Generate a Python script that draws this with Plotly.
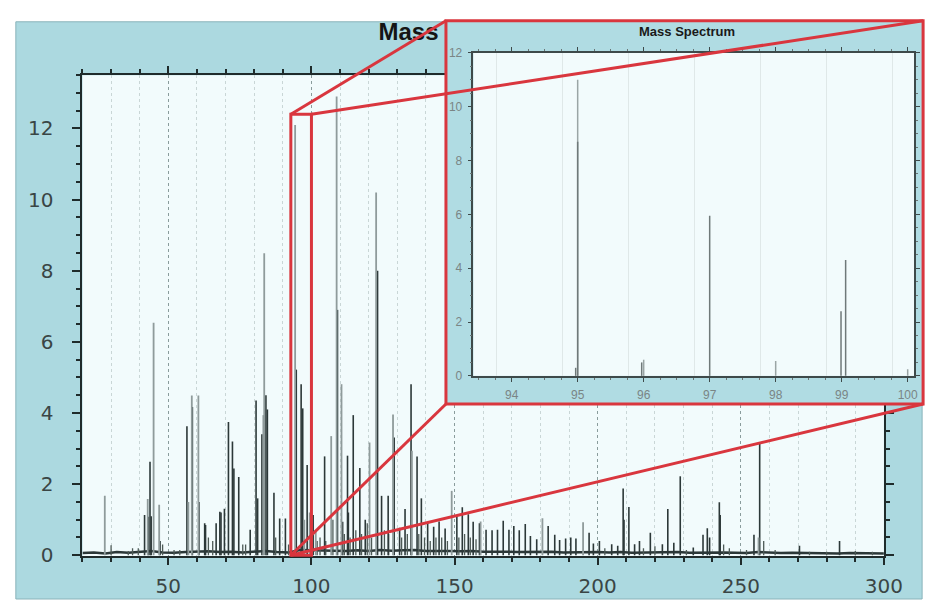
import plotly.graph_objects as go
import numpy as np

# ---------------- data ----------------
# main spectrum, darker peaks (m/z, intensity)
dark_mz = [41.7, 43.0, 43.6, 44.0, 47.1, 56.5, 58.4, 60.7, 62.7, 63.0, 66.7, 68.0, 68.4, 69.6,
           71.0, 72.4, 72.9, 74.6, 78.6, 80.65, 81.2, 82.7, 84.1, 84.6, 86.9, 88.9, 90.9,
           94.7, 96.4, 96.95, 98.5, 100.6, 104.6, 109.1, 110.9, 112.6, 112.9, 114.6, 116.9,
           118.8, 123.1, 124.5, 126.8, 128.9, 130.8, 132.7, 134.8, 136.9, 138.4, 140.6,
           142.7, 144.6, 146.7, 150.8, 152.7, 154.8, 156.5, 158.7, 161.0, 163.1, 165.0,
           167.0, 169.0, 170.7, 172.6, 174.7, 176.5, 178.7, 182.7, 185.0, 186.7, 188.8,
           190.6, 192.4, 197.0, 198.5, 200.6, 204.9, 207.0, 208.9, 209.2, 210.9, 212.9,
           214.6, 218.4, 222.6, 224.5, 226.6, 228.85, 233.4, 236.8, 238.3, 239.1, 242.5,
           242.8, 254.6, 256.6, 270.5, 284.5]
dark_int = [1.13, 1.08, 2.63, 1.10, 0.40, 3.63, 4.17, 1.50, 0.90, 0.85, 0.90, 1.22, 1.20, 1.31,
            3.75, 3.20, 2.44, 2.20, 0.72, 4.35, 1.60, 3.40, 4.50, 4.10, 1.76, 1.03, 1.03,
            5.22, 4.81, 4.13, 2.54, 1.13, 2.78, 6.90, 0.94, 2.80, 1.20, 3.94, 2.45,
            1.00, 8.00, 1.67, 1.67, 3.31, 0.77, 1.30, 4.81, 2.78, 1.60, 0.90,
            0.80, 0.95, 0.75, 1.10, 1.35, 1.15, 0.94, 0.90, 0.72, 0.70, 0.72,
            0.97, 0.72, 0.82, 0.70, 0.88, 0.54, 0.45, 0.82, 0.58, 0.43, 0.47,
            0.50, 0.47, 0.63, 0.33, 0.40, 0.31, 0.27, 1.88, 1.00, 1.36, 0.31,
            0.40, 0.63, 0.31, 1.30, 0.35, 2.22, 0.22, 0.58, 0.76, 0.50, 1.49,
            1.13, 0.58, 3.17, 0.27, 0.40]

# main spectrum, lighter (grey) peaks
light_mz = [27.8, 42.8, 44.85, 46.8, 57.0, 58.2, 60.5, 83.2, 83.5, 94.3, 97.5, 99.4, 101.5,
            106.9, 108.8, 110.5, 120.3, 122.6, 128.5, 135.1, 149.0, 159.1, 180.7, 194.9, 256.2]
light_int = [1.67, 1.58, 6.54, 1.42, 1.50, 4.49, 4.49, 3.94, 8.49, 12.1, 1.0, 1.2, 0.7,
             3.35, 12.9, 4.81, 3.17, 10.2, 3.96, 2.94, 1.81, 0.95, 1.04, 0.93, 0.50]

# small spikes
minor_mz = [30.0, 36.0, 37.5, 39.5, 48.0, 52.0, 54.0, 64.0, 65.5, 76.0, 77.0, 87.5, 92.0,
            102.0, 103.0, 105.0, 107.5, 111.5, 113.5, 115.5, 117.5, 119.5, 121.0, 125.5,
            127.0, 131.5, 133.5, 137.5, 139.5, 141.5, 143.5, 145.5, 147.5, 151.5, 153.5,
            155.5, 157.5, 202.5, 216.0, 220.0, 231.0, 244.0, 246.0, 252.0, 258.0, 262.0,
            274.0, 280.0, 290.0, 296.0]
minor_int = [0.28, 0.12, 0.20, 0.20, 0.30, 0.15, 0.15, 0.50, 0.40, 0.30, 0.30, 0.50, 0.30,
             0.40, 0.50, 0.40, 1.00, 0.60, 0.50, 0.70, 0.60, 0.90, 0.50, 0.70,
             0.60, 0.50, 0.60, 0.60, 0.50, 0.40, 0.50, 0.50, 0.40, 0.50, 0.60,
             0.50, 0.45, 0.20, 0.20, 0.25, 0.15, 0.30, 0.20, 0.15, 0.40, 0.15,
             0.10, 0.10, 0.12, 0.10]

# baseline noise
noise_mz = [20, 24, 28, 32, 36, 40, 44, 48, 52, 56, 60, 64, 68, 72, 76, 80, 84, 88, 92,
            96, 100, 104, 108, 112, 116, 120, 124, 128, 132, 136, 140, 144, 148, 152, 156,
            160, 164, 168, 172, 176, 180, 184, 188, 192, 196, 200, 204, 208, 212, 216, 220,
            224, 228, 232, 236, 240, 244, 248, 252, 256, 260, 264, 268, 272, 276, 280, 284,
            288, 292, 296, 300]
noise_int = [0.06, 0.08, 0.05, 0.09, 0.07, 0.10, 0.12, 0.08, 0.07, 0.09, 0.10, 0.11, 0.09,
             0.10, 0.08, 0.10, 0.12, 0.09, 0.08, 0.15, 0.14, 0.12, 0.13, 0.12, 0.14, 0.12,
             0.15, 0.13, 0.14, 0.15, 0.12, 0.13, 0.12, 0.11, 0.12, 0.10, 0.11, 0.10, 0.09,
             0.10, 0.09, 0.10, 0.08, 0.09, 0.08, 0.09, 0.08, 0.09, 0.07, 0.08, 0.07, 0.08,
             0.09, 0.07, 0.08, 0.09, 0.08, 0.07, 0.06, 0.09, 0.07, 0.06, 0.07, 0.06, 0.05,
             0.06, 0.05, 0.06, 0.05, 0.06, 0.05]

# inset (zoom on m/z 93.4-100)
inset_light_mz = [95.0, 96.0, 98.0, 100.0]
inset_light_int = [11.0, 0.60, 0.55, 0.25]
inset_dark_mz = [94.97, 95.0, 95.97, 97.0, 98.99, 99.06]
inset_dark_int = [0.30, 8.70, 0.50, 5.95, 2.40, 4.30]

x_ticks_main = [50, 100, 150, 200, 250, 300]
y_ticks_main = [0, 2, 4, 6, 8, 10, 12]
x_ticks_inset = [94, 95, 96, 97, 98, 99, 100]
y_ticks_inset = [0, 2, 4, 6, 8, 10, 12]

TITLE = "Mass Spectrum"
INSET_TITLE = "Mass Spectrum"

# ---------------- layout geometry ----------------
W, H = 939, 602
XR, YR = [20, 300], [-0.03, 13.5]
MAIN_DX = [76 / W, 894 / W]
MAIN_DY = [1 - 558 / H, 1 - 62 / H]
FRAME_DX = [447 / W, 934 / W]
FRAME_DY = [1 - 401 / H, 1 - 6 / H]
INSET_DX = [475 / W, 925 / W]
INSET_DY = [1 - 372 / H, 1 - 39 / H]
ZOOM_X = [92.8, 100.0]
ZOOM_Y = [0.0, 12.4]

RED = "#d9363e"
DARK = "#2c3838"
LIGHT = "#8f9b9b"


def spikes(xs, ys):
    X, Y = [], []
    for x, y in zip(xs, ys):
        X += [x, x, None]
        Y += [0, y, None]
    return X, Y


def px(m):
    return MAIN_DX[0] + (m - XR[0]) / (XR[1] - XR[0]) * (MAIN_DX[1] - MAIN_DX[0])


def py(v):
    return MAIN_DY[0] + (v - YR[0]) / (YR[1] - YR[0]) * (MAIN_DY[1] - MAIN_DY[0])


fig = go.Figure()

fig.add_trace(go.Scatter(x=noise_mz, y=noise_int, mode="lines",
                         line=dict(color=DARK, width=2.5), hoverinfo="skip",
                         xaxis="x", yaxis="y", showlegend=False))
mx, my = spikes(minor_mz, minor_int)
fig.add_trace(go.Scatter(x=mx, y=my, mode="lines", line=dict(color="#4d5a56", width=1.3),
                         xaxis="x", yaxis="y", showlegend=False))
lx, ly = spikes(light_mz, light_int)
fig.add_trace(go.Scatter(x=lx, y=ly, mode="lines", line=dict(color=LIGHT, width=1.8),
                         xaxis="x4", yaxis="y", showlegend=False))
dx, dy = spikes(dark_mz, dark_int)
fig.add_trace(go.Scatter(x=dx, y=dy, mode="lines", line=dict(color=DARK, width=1.6),
                         xaxis="x", yaxis="y", showlegend=False))

ilx, ily = spikes(inset_light_mz, inset_light_int)
fig.add_trace(go.Scatter(x=ilx, y=ily, mode="lines", line=dict(color="#9aa5a5", width=1.5),
                         xaxis="x3", yaxis="y3", showlegend=False))
idx_, idy = spikes(inset_dark_mz, inset_dark_int)
fig.add_trace(go.Scatter(x=idx_, y=idy, mode="lines", line=dict(color="#6f7979", width=1.5),
                         xaxis="x3", yaxis="y3", showlegend=False))

axis_dark = "#1f2b2b"
label_font = dict(family="DejaVu Sans", size=20, color="#3a4545")
small_font = dict(family="Liberation Sans Narrow, Liberation Sans", size=12, color="#7a8585")

fig.update_layout(
    width=W, height=H,
    margin=dict(l=0, r=0, t=0, b=0),
    paper_bgcolor="white",
    plot_bgcolor="#f2fbfc",
    showlegend=False,
    xaxis=dict(domain=MAIN_DX, anchor="y", range=XR, tickvals=x_ticks_main,
               showline=True, linecolor=axis_dark, linewidth=2, mirror="ticks",
               ticks="outside", ticklen=7, tickwidth=2, tickcolor=axis_dark,
               showgrid=True, gridcolor="#8a9c9c", griddash="dot", gridwidth=1,
               minor=dict(dtick=10, tick0=0, ticks="outside", ticklen=4, tickcolor=axis_dark,
                          showgrid=True, gridcolor="#c9d6d6", griddash="dot"),
               zeroline=False, tickfont=label_font, ticklabelstandoff=4),
    yaxis=dict(domain=MAIN_DY, anchor="x", range=YR, tickvals=y_ticks_main,
               showline=True, linecolor=axis_dark, linewidth=2, mirror="ticks",
               ticks="outside", ticklen=8, tickwidth=2, tickcolor=axis_dark,
               minor=dict(dtick=0.5, tick0=0, ticks="outside", ticklen=4, tickcolor=axis_dark),
               showgrid=False, zeroline=False, tickfont=label_font, ticklabelstandoff=15),
    xaxis4=dict(overlaying="x", anchor="y", side="top", range=XR,
                tickvals=[154.4], ticktext=["<b>" + TITLE + "</b>"],
                tickfont=dict(family="Liberation Sans", size=24, color="#151515"),
                ticks="", showline=False, showgrid=False, zeroline=False,
                ticklabelstandoff=29),
    xaxis2=dict(domain=FRAME_DX, anchor="y2", range=[0, 1], showline=False,
                showgrid=False, zeroline=False, showticklabels=False, ticks=""),
    yaxis2=dict(domain=FRAME_DY, anchor="x2", range=[0, 1], showline=False,
                showgrid=False, zeroline=False, showticklabels=False, ticks=""),
    xaxis3=dict(domain=INSET_DX, anchor="y3", range=[93.42, 100.1], tickvals=x_ticks_inset,
                showline=True, linecolor="#3e4a4a", linewidth=1.5, mirror="ticks",
                ticks="outside", ticklen=4, tickcolor="#3e4a4a",
                minor=dict(dtick=0.25, tick0=94, ticks="outside", ticklen=2, tickcolor="#6a7575"),
                showgrid=False, zeroline=False, tickfont=small_font, ticklabelstandoff=3),
    yaxis3=dict(domain=INSET_DY, anchor="x3", range=[0, 12], tickvals=y_ticks_inset,
                showline=True, linecolor="#3e4a4a", linewidth=1.5, mirror="ticks",
                ticks="outside", ticklen=4, tickcolor="#3e4a4a",
                minor=dict(dtick=0.5, tick0=0, ticks="outside", ticklen=2, tickcolor="#6a7575"),
                showgrid=False, zeroline=False, tickfont=small_font, ticklabelstandoff=3),
)

shapes = []
# outer light-blue card
shapes.append(dict(type="rect", xref="paper", yref="paper", layer="below",
                   x0=8 / W, x1=933 / W, y0=0, y1=1 - 7 / H,
                   fillcolor="#acd9e0", line=dict(color="#8ab3ba", width=1)))
# pale main plotting area
shapes.append(dict(type="rect", xref="paper", yref="paper", layer="below",
                   x0=MAIN_DX[0], x1=MAIN_DX[1], y0=MAIN_DY[0], y1=MAIN_DY[1],
                   fillcolor="#f2fbfc", line=dict(width=0)))
# inset frame background (drawn inside the frame subplot)
shapes.append(dict(type="rect", xref="x2", yref="y2", layer="below",
                   x0=0, x1=1, y0=0, y1=1, fillcolor="#b0dce3", line=dict(width=0)))
# faint vertical grid in inset
for v in np.arange(93.77, 100.0, 1.0):
    shapes.append(dict(type="line", xref="x3", yref="y3", layer="below",
                       x0=v, x1=v, y0=0, y1=12, line=dict(color="#dfe8e8", width=1)))
# zoom rectangle on the main plot
zx0, zx1, zy0, zy1 = px(ZOOM_X[0]), px(ZOOM_X[1]), py(ZOOM_Y[0]), py(ZOOM_Y[1])
shapes.append(dict(type="rect", xref="paper", yref="paper", layer="above",
                   x0=zx0, x1=zx1, y0=zy0, y1=zy1, line=dict(color=RED, width=3)))
# inset frame border
shapes.append(dict(type="rect", xref="paper", yref="paper", layer="above",
                   x0=FRAME_DX[0], x1=FRAME_DX[1], y0=FRAME_DY[0], y1=FRAME_DY[1],
                   line=dict(color=RED, width=3)))
# connector lines
for (a, b) in [((zx0, zy1), (FRAME_DX[0], FRAME_DY[1])),
               ((zx1, zy1), (FRAME_DX[1], FRAME_DY[1])),
               ((zx0, zy0), (FRAME_DX[0], FRAME_DY[0])),
               ((zx0, zy0), (FRAME_DX[1], FRAME_DY[0]))]:
    shapes.append(dict(type="line", xref="paper", yref="paper", layer="above",
                       x0=a[0], y0=a[1], x1=b[0], y1=b[1], line=dict(color=RED, width=3)))
fig.update_layout(shapes=shapes)

fig.add_annotation(text="<b>" + INSET_TITLE + "</b>", xref="paper", yref="paper",
                   x=693 / W, y=1 - 17 / H, showarrow=False, xanchor="center", yanchor="middle",
                   font=dict(family="Liberation Sans Narrow, Liberation Sans", size=13, color="#1a1a1a"))

fig.write_html("out.html")
